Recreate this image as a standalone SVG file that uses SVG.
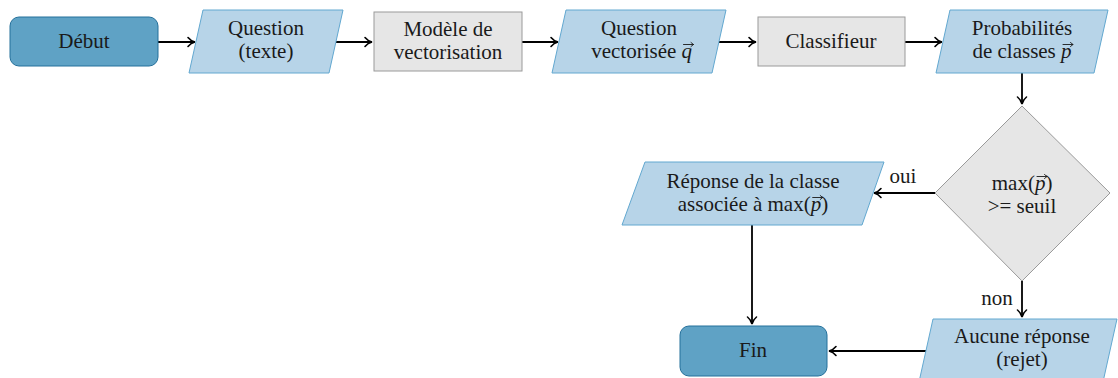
<svg xmlns="http://www.w3.org/2000/svg" width="1118" height="378" viewBox="0 0 1118 378">
<style>
text{font-family:"Liberation Serif","Times New Roman",serif;font-size:21px;fill:#1a1a1a;text-anchor:middle}
text.e{text-anchor:end}
text.s{text-anchor:start}
.m{font-style:italic}
.term{fill:#5fa2c5;stroke:#24709b;stroke-width:1}
.io{fill:#b7d4e8;stroke:#62a8d0;stroke-width:1}
.proc{fill:#e6e6e6;stroke:#9a9a9a;stroke-width:1}
.edge{stroke:#000;stroke-width:1.8;fill:none;marker-end:url(#ah)}
.vec{stroke:#1a1a1a;stroke-width:0.9;fill:none;stroke-linecap:round}
</style>
<defs>
<marker id="ah" viewBox="-10 -6 12 12" refX="0" refY="0" markerWidth="12" markerHeight="12" markerUnits="userSpaceOnUse" orient="auto">
<path d="M-7,-4.5 C-5,-2 -2,-0.5 0,0 C-2,0.5 -5,2 -7,4.5" stroke="#000" stroke-width="1.6" fill="none" stroke-linecap="round"/>
</marker>
</defs>
<g id="connectors">
<line class="edge" x1="158" y1="42" x2="195" y2="42"/>
<line class="edge" x1="336" y1="42" x2="372" y2="42"/>
<line class="edge" x1="522" y1="42" x2="558" y2="42"/>
<line class="edge" x1="719" y1="42" x2="756" y2="42"/>
<line class="edge" x1="905" y1="42" x2="942" y2="42"/>
<line class="edge" x1="1022" y1="73" x2="1022" y2="104"/>
<line class="edge" x1="935" y1="193" x2="874" y2="193"/>
<line class="edge" x1="752" y1="225" x2="752" y2="324"/>
<line class="edge" x1="1022" y1="281" x2="1022" y2="317"/>
<line class="edge" x1="926" y1="351" x2="829" y2="351"/>
<text x="903" y="183">oui</text>
<text x="997" y="305">non</text>
</g>
<g id="debut">
<rect class="term" x="10" y="17" width="148" height="49" rx="9"/>
<text x="84" y="48">Début</text>
</g>
<g id="question">
<polygon class="io" points="203,10 343,10 329,73 189,73"/>
<text x="266" y="35">Question</text>
<text x="266" y="58">(texte)</text>
</g>
<g id="modele">
<rect class="proc" x="374" y="12" width="148" height="59"/>
<text x="448" y="36">Modèle de</text>
<text x="448" y="59">vectorisation</text>
</g>
<g id="qvec">
<polygon class="io" points="566,10 726,10 712,73 552,73"/>
<text x="639" y="35">Question</text>
<text class="e" x="676.3" y="58">vectorisée</text>
<text class="s m" x="681.6" y="58">q</text>
<path class="vec" d="M683.5,44.5 H693.5 M691,42.5 L693.5,44.5 L691,46.5"/>
</g>
<g id="classifieur">
<rect class="proc" x="758" y="17" width="147" height="49"/>
<text x="831" y="48">Classifieur</text>
</g>
<g id="proba">
<polygon class="io" points="950,10 1108,10 1094,73 936,73"/>
<text x="1022" y="35">Probabilités</text>
<text class="e" x="1055.8" y="58">de classes</text>
<text class="s m" x="1061.1" y="58">p</text>
<path class="vec" d="M1063,44.5 H1073 M1070.5,42.5 L1073,44.5 L1070.5,46.5"/>
</g>
<g id="decision">
<polygon class="proc" points="1022,106 1110,193 1022,281 935,193"/>
<text class="e" x="1034.9" y="190">max(</text>
<text class="s m" x="1034.9" y="190">p</text>
<text class="s" x="1045.4" y="190">)</text>
<path class="vec" d="M1037,176.5 H1047 M1044.5,174.5 L1047,176.5 L1044.5,178.5"/>
<text x="1022" y="213">&gt;= seuil</text>
</g>
<g id="reponse">
<polygon class="io" points="645,162 884,162 862,225 622,225"/>
<text x="753" y="188">Réponse de la classe</text>
<text class="e" x="810.7" y="211">associée à max(</text>
<text class="s m" x="810.7" y="211">p</text>
<text class="s" x="821.2" y="211">)</text>
<path class="vec" d="M812.7,197.5 H822.7 M820.2,195.5 L822.7,197.5 L820.2,199.5"/>
</g>
<g id="fin">
<rect class="term" x="680" y="326" width="147" height="50" rx="9"/>
<text x="753" y="357">Fin</text>
</g>
<g id="aucune">
<polygon class="io" points="933,319 1117,319 1103,382 919,382"/>
<text x="1022" y="343">Aucune réponse</text>
<text x="1022" y="366">(rejet)</text>
</g>
</svg>
